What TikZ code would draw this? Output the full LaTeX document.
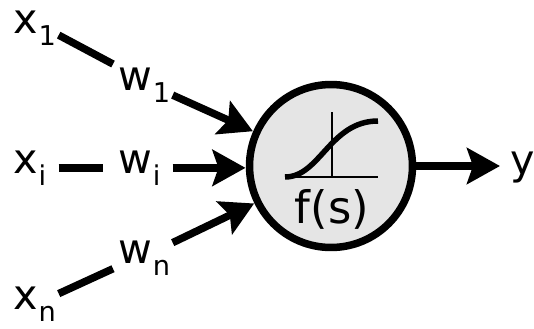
\documentclass[tikz,border=0pt]{standalone}
\usepackage{fontspec}
\setmainfont{DejaVu Sans}
\usetikzlibrary{arrows.meta}

% lowered index after a letter
\newcommand{\lowsub}[1]{\kern0.5pt\raisebox{-7pt}{\fontsize{15.5}{16}\selectfont #1}}

\begin{document}
\begin{tikzpicture}[x=0.02cm, y=-0.02cm,
  every node/.style={font=\fontsize{23.5}{25}\selectfont},
  inlabel/.style={anchor=base west, inner xsep=0.1cm, inner ysep=0.06cm, text width=0.8cm, align=left},
  wlabel/.style={anchor=base west, inner xsep=0.1cm, inner ysep=0.06cm, text width=0.98cm, align=left},
  wire/.style={line width=0.15cm},
  sig/.style={wire, -{Stealth[length=0.66cm, width=0.72cm, inset=0.12cm]}},
  neuronbody/.style={circle, draw, line width=0.15cm, fill=black!10, minimum size=3.26cm, outer sep=0.08cm}]
\useasboundingbox (0,0) rectangle (534,328);

% inputs and weights
\node[inlabel] (x1) at (8,33)  {x\lowsub{1}};
\node[inlabel] (xi) at (8,173) {x\lowsub{i}};
\node[inlabel] (xn) at (8,309) {x\lowsub{n}};
\node[wlabel]  (w1) at (113,90)  {w\lowsub{1}};
\node[wlabel]  (wi) at (113,173) {w\lowsub{i}};
\node[wlabel]  (wn) at (113,263) {w\lowsub{n}};

% the unit itself
\node[neuronbody] (neuron) at (331,166) {};
\node[anchor=base west, inner xsep=0.2cm] (y) at (500,174) {y};

% activation sketch
\begin{scope}[shift={(neuron.center)}]
\draw[line width=0.055cm] (-46,11) -- (47,11);
\draw[line width=0.055cm] (1,-54) -- (1,11);
\draw[line width=0.11cm] (-46,11) .. controls (-11,11) and (-1,-45) .. (47,-45);
\node[anchor=base, font=\fontsize{25.5}{27}\selectfont] (fs) at (1,57) {f(s)};
\end{scope}

% connections
\draw[wire] (x1.-16) -- (w1.north west);
\draw[sig]  (w1.-19) -- (neuron.156);
\draw[wire, shorten >=0.2cm] (xi.east) -- (wi.west);
\draw[sig]  (wi.east) -- (wi.east -| neuron.west);
\draw[wire] (xn.22) -- (wn.-160);
\draw[sig]  (wn.27) -- (neuron.-154);
\draw[sig]  (neuron.east) -- (neuron.east -| y.west);

\end{tikzpicture}
\end{document}
